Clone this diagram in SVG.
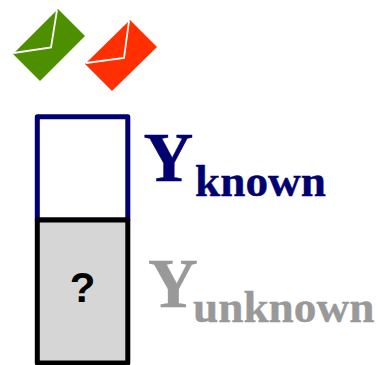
<svg xmlns="http://www.w3.org/2000/svg" width="379" height="365" viewBox="0 0 379 365">
<style>
.flap{fill:none;stroke:#fff;stroke-width:1.800}
.box{stroke-width:5;stroke-linejoin:round}
.t{font-family:"Liberation Serif",serif;font-weight:bold}
.b{font-size:69px}
.s{font-size:45.300px}
.navy{fill:#000070;stroke:#000070;stroke-width:.4}
.gray{fill:#999;stroke:#999;stroke-width:.4}
</style>
<rect width="379" height="365" fill="#fff"/>
<g id="env-green"><polygon points="58,9 85,36 40,81 13,54" fill="#4e8f00"/><polyline class="flap" points="13.500,53 51,47.500 57,10"/></g>
<g id="env-red"><polygon points="130,20 157,47 112,91 85,64" fill="#ff2f00"/><polyline class="flap" points="86,63 124,58 129,21"/></g>
<g id="box-known"><rect class="box" x="37.300" y="116.800" width="90.500" height="103.200" fill="#fff" stroke="#000070"/></g>
<g id="box-unknown"><rect class="box" x="37.300" y="220" width="90.500" height="143" fill="#d6d6d6" stroke="#000"/>
<text x="82.500" y="302" text-anchor="middle" font-family="Liberation Sans,sans-serif" font-weight="bold" font-size="42">?</text></g>
<g id="label-known"><text class="t b navy" x="143.500" y="181">Y</text><text class="t s navy" x="195" y="196">known</text></g>
<g id="label-unknown"><text class="t b gray" x="148" y="307">Y</text><text class="t s gray" x="193" y="321.500">unknown</text></g>
<g id="connectors"/>
</svg>
